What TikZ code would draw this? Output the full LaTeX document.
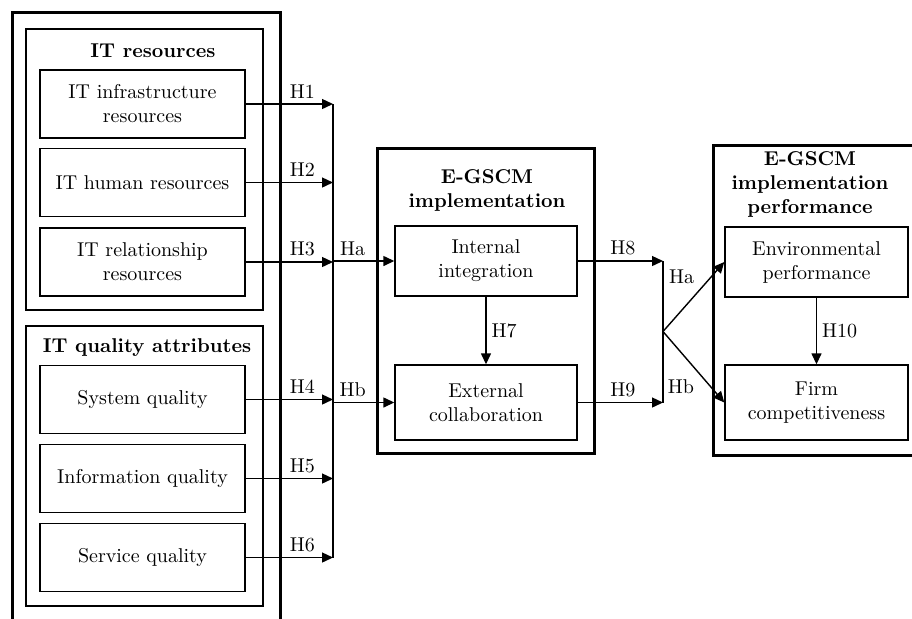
\documentclass[tikz,border=0pt]{standalone}
\usetikzlibrary{arrows.meta}
\begin{document}
\begin{tikzpicture}[x=0.5pt, y=-0.5pt,
  item/.style={draw, line width=0.7pt, minimum width=102.5pt, minimum height=34pt,
               align=center, inner sep=2pt},
  grp/.style={draw, line width=0.7pt, minimum width=118.5pt},
  frame/.style={draw, line width=1.5pt},
  ttl/.style={font=\bfseries, align=center, inner sep=0pt},
  lbl/.style={inner sep=2.5pt},
  arrow/.style={-{Triangle[length=5.5pt, width=5pt]}, line width=0.7pt}
]
\clip (0,0) rectangle (912,618);

% outer frames
\node[frame, minimum width=134pt, minimum height=309pt] (itside) at (146,321) {};
\node[frame, minimum width=108.5pt, minimum height=152.5pt] (impl) at (485.5,300.5) {};
\node[frame, minimum width=103.5pt, minimum height=155pt] (perf) at (816.5,300) {};

% IT resources
\node[grp, minimum height=140.5pt] (itres) at (144.5,169.5) {};
\node[ttl] (itrest) at (153,51) {IT resources};
\node[item] (infra) at (142.5,104)   {IT infrastructure\\resources};
\node[item] (human) at (142.5,182.5) {IT human resources};
\node[item] (relat) at (142.5,262)   {IT relationship\\resources};

% IT quality attributes
\node[grp, minimum height=140pt] (itqual) at (144.5,466) {};
\node[ttl] (itqualt) at (147,348) {IT quality attributes};
\node[item] (sysq) at (142.5,399.5) {System quality};
\node[item] (infq) at (142.5,478.5) {Information quality};
\node[item] (servq) at (142.5,557.5) {Service quality};

% E-GSCM implementation
\node[ttl] (implt) at (487,190) {E-GSCM\\implementation};
\node[item, minimum width=91pt, minimum height=35pt] (intint) at (486,261) {Internal\\integration};
\node[item, minimum width=91pt, minimum height=37.5pt] (extcol) at (486,402.5) {External\\collaboration};

% E-GSCM implementation performance
\node[ttl] (perft) at (810,184) {E-GSCM\\implementation\\performance};
\node[item, minimum width=91.5pt, minimum height=35pt] (envperf) at (816.5,262) {Environmental\\performance};
\node[item, minimum width=91.5pt, minimum height=37.5pt] (firm) at (816.5,402.5) {Firm\\competitiveness};

% bus lines
\coordinate (busa) at (333,0);
\coordinate (busb) at (663,0);
\coordinate (junc) at (663,331.5);

% Arrows IT -> bus
\draw[arrow] (infra.east) -- (infra.east -| busa) node[lbl, above, pos=0.65] {H1};
\draw[arrow] (human.east) -- (human.east -| busa) node[lbl, above, pos=0.65] {H2};
\draw[arrow] (relat.east) -- (relat.east -| busa) node[lbl, above, pos=0.65] {H3};
\draw[arrow] (sysq.east)  -- (sysq.east -| busa)  node[lbl, above, pos=0.65] {H4};
\draw[arrow] (infq.east)  -- (infq.east -| busa)  node[lbl, above, pos=0.65] {H5};
\draw[arrow] (servq.east) -- (servq.east -| busa) node[lbl, above, pos=0.65] {H6};
\draw[line width=0.7pt] (infra.east -| busa) -- (servq.east -| busa);

% Arrows bus -> implementation
\draw[arrow] (busa |- intint.west) -- (intint.west) node[lbl, above, pos=0.32] {Ha};
\draw[arrow] (busa |- extcol.west) -- (extcol.west) node[lbl, above, pos=0.32] {Hb};
\draw[arrow] (intint.south) -- (extcol.north) node[lbl, right, midway] {H7};

% Arrows implementation -> performance
\draw[arrow] (intint.east) -- (intint.east -| busb) node[lbl, above, pos=0.53] {H8};
\draw[arrow] (extcol.east) -- (extcol.east -| busb) node[lbl, above, pos=0.53] {H9};
\draw[line width=0.7pt] (intint.east -| busb) -- (extcol.east -| busb);
\draw[arrow] (junc) -- (envperf.west) node[lbl, above left, pos=0.6] {Ha};
\draw[arrow] (junc) -- (firm.west) node[lbl, below left, pos=0.6] {Hb};
\draw[arrow] (envperf.south) -- (firm.north) node[lbl, right, midway] {H10};

\end{tikzpicture}
\end{document}
